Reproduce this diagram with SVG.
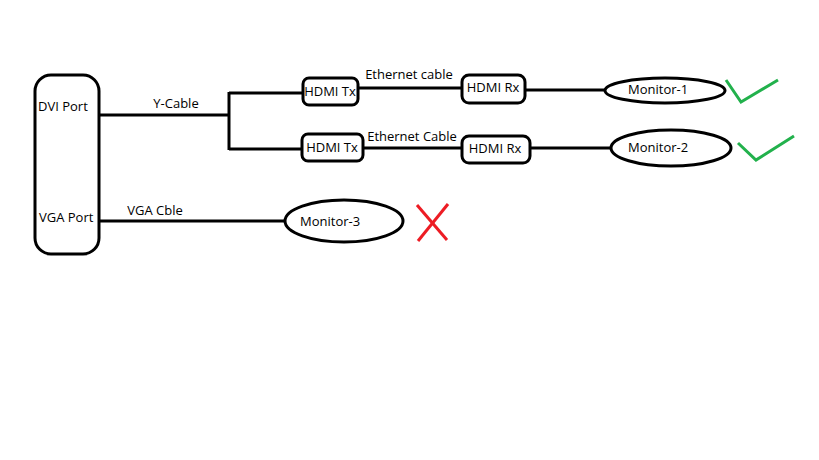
<svg xmlns="http://www.w3.org/2000/svg" width="819" height="460" viewBox="0 0 819 460">
<style>
.ln{stroke:#000;stroke-width:3;fill:none}
.box{stroke:#000;stroke-width:3;fill:#fff}
.t{font-family:"Open Sans","Liberation Sans",sans-serif;font-size:13px;fill:#000}
.c{text-anchor:middle}
.ok{stroke:#22b14c;stroke-width:3;fill:none}
.no{stroke:#ed1c24;stroke-width:3;fill:none}
</style>
<rect width="819" height="460" fill="#fff"/>
<g id="connectors">
<line class="ln" x1="99" y1="115" x2="229" y2="115"/>
<line class="ln" x1="229" y1="92" x2="229" y2="150"/>
<line class="ln" x1="229" y1="93" x2="303" y2="93"/>
<line class="ln" x1="229" y1="149" x2="302" y2="149"/>
<line class="ln" x1="358" y1="88" x2="462" y2="88"/>
<line class="ln" x1="363" y1="148" x2="462" y2="148"/>
<line class="ln" x1="525" y1="90" x2="605" y2="90"/>
<line class="ln" x1="530" y1="148" x2="611" y2="148"/>
<line class="ln" x1="99" y1="221" x2="285" y2="221"/>
<text class="t c" x="176" y="108">Y-Cable</text>
<text class="t c" x="409" y="79">Ethernet cable</text>
<text class="t c" x="412" y="141">Ethernet Cable</text>
<text class="t c" x="155" y="215">VGA Cble</text>
</g>
<g id="ports">
<rect class="box" x="35" y="75" width="64" height="179" rx="16" ry="16"/>
<text class="t" x="38" y="111">DVI Port</text>
<text class="t" x="39" y="222">VGA Port</text>
</g>
<g id="hdmi-tx-1">
<rect class="box" x="303" y="78" width="55" height="27" rx="6"/>
<text class="t c" x="330" y="96">HDMI Tx</text>
</g>
<g id="hdmi-rx-1">
<rect class="box" x="462" y="75" width="63" height="28" rx="7"/>
<text class="t c" x="493" y="92">HDMI Rx</text>
</g>
<g id="hdmi-tx-2">
<rect class="box" x="302" y="134" width="61" height="27" rx="6"/>
<text class="t c" x="332" y="152">HDMI Tx</text>
</g>
<g id="hdmi-rx-2">
<rect class="box" x="462" y="136" width="68" height="27" rx="7"/>
<text class="t c" x="495" y="153">HDMI Rx</text>
</g>
<g id="monitor-1">
<ellipse class="box" cx="665" cy="90.5" rx="60" ry="12.5"/>
<text class="t" x="628" y="94">Monitor-1</text>
<polyline class="ok" points="726,80 741,102 778,80"/>
</g>
<g id="monitor-2">
<ellipse class="box" cx="671" cy="148" rx="60" ry="18"/>
<text class="t" x="628" y="152">Monitor-2</text>
<polyline class="ok" points="738,143 756,160 794,136"/>
</g>
<g id="monitor-3">
<ellipse class="box" cx="344" cy="221" rx="59" ry="21"/>
<text class="t" x="300" y="226">Monitor-3</text>
<line class="no" x1="417" y1="205" x2="447" y2="240"/>
<line class="no" x1="448" y1="204" x2="418" y2="241"/>
</g>
</svg>
